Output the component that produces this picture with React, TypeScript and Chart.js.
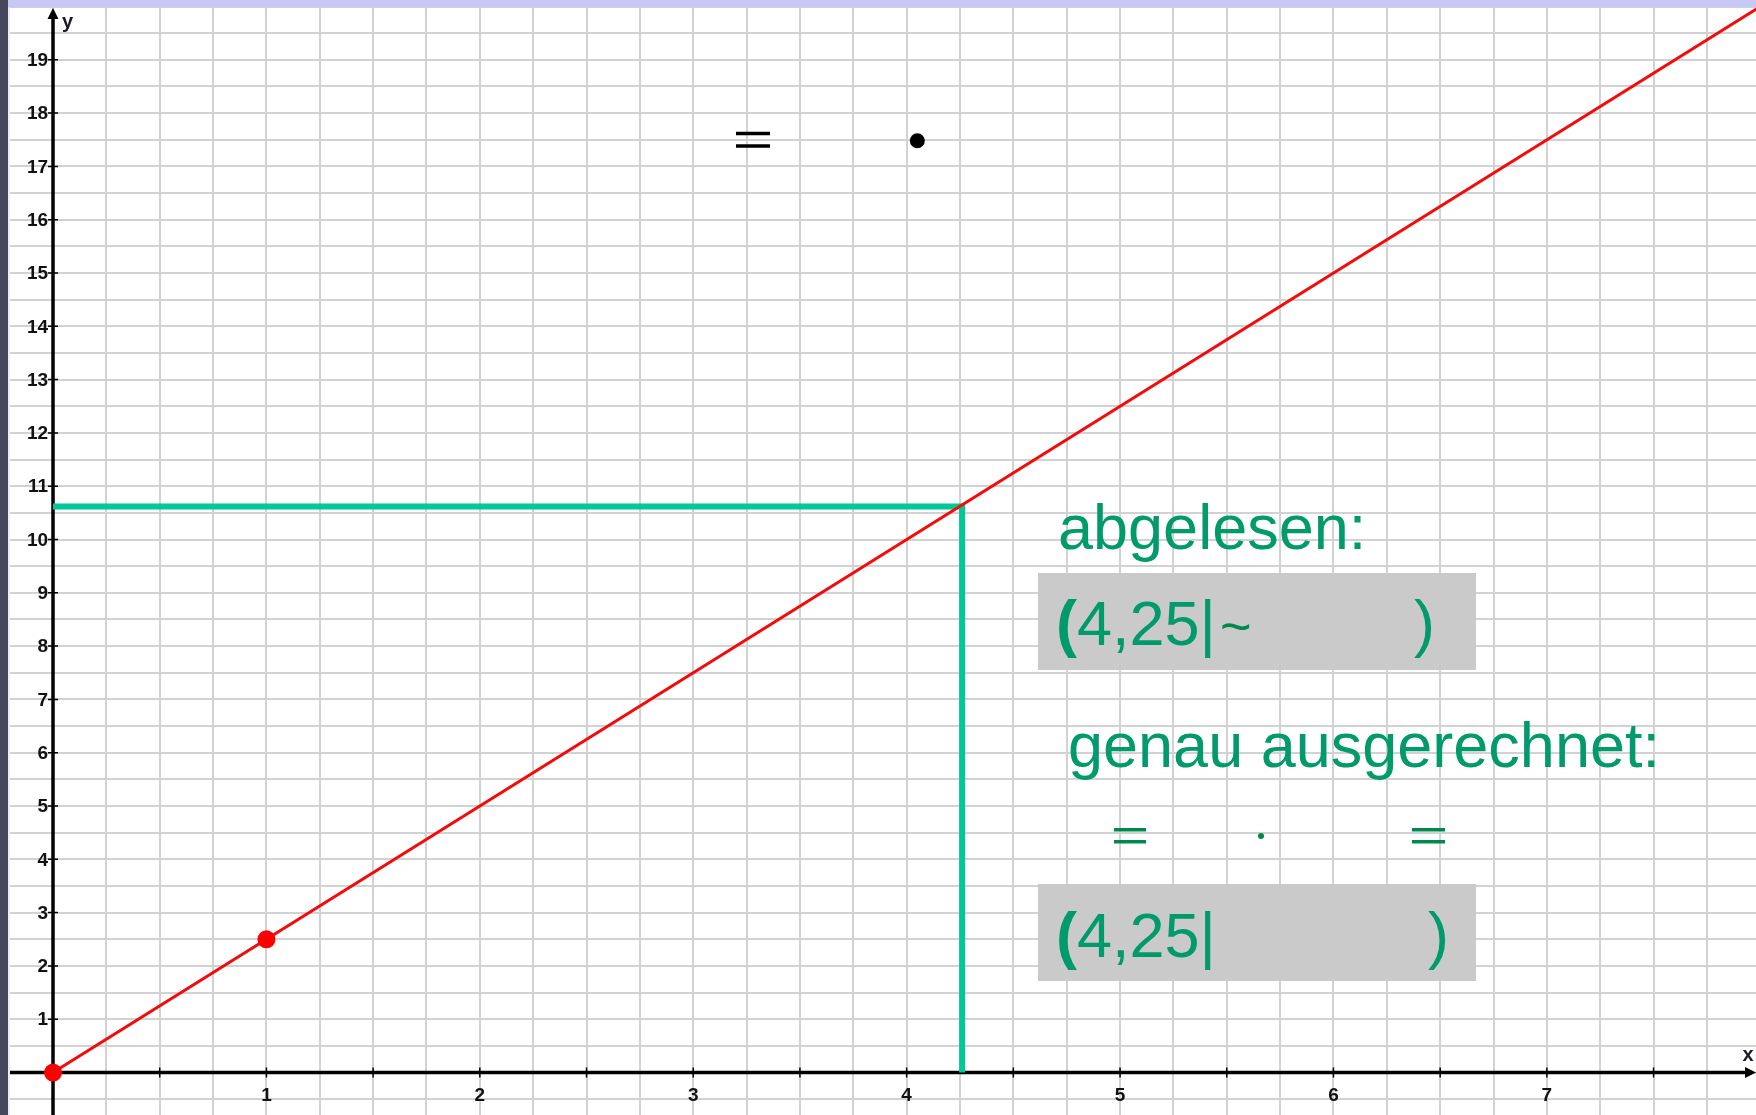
import React, { useEffect, useRef } from "react";
import { Chart, registerables } from "chart.js";

Chart.register(...registerables);

// ---- data ----
const lineX = [0, 8.1];
const lineY = [0, 20.25];
const givenPointX = [0, 1];
const givenPointY = [0, 2.5];
const guideX = [0, 4.26, 4.26];
const guideY = [10.62, 10.62, 0];
const blackDotX = [4.05];
const blackDotY = [17.48];
const blackEqX = [3.28];
const blackEqY = [17.5];
const xTickLabels = ["1", "2", "3", "4", "5", "6", "7"];
const yTickLabels = ["1", "2", "3", "4", "5", "6", "7", "8", "9", "10", "11", "12", "13", "14", "15", "16", "17", "18", "19"];
const xTickMarks = [0.5, 1, 1.5, 2, 2.5, 3, 3.5, 4, 4.5, 5, 5.5, 6, 6.5, 7, 7.5];
const readLabel = "abgelesen:";
const readValue = "4,25|";
const exactLabel = "genau ausgerechnet:";
const exactValue = "4,25|";

// ---- view ----
const X_MIN = -0.2484;
const X_MAX = 7.98;
const Y_MIN = -0.797;
const Y_MAX = 20.122;
const W = 1756;
const H = 1115;

const xGrid: number[] = [];
for (let v = -0.25; v <= 8.001; v += 0.25) xGrid.push(Math.round(v * 100) / 100);
const yGrid: number[] = [];
for (let v = -0.5; v <= 20.001; v += 0.5) yGrid.push(Math.round(v * 100) / 100);

const GREEN_TEXT = "#009A6B";
const GREEN_DARK = "#00894F";
const SANS = "'Liberation Sans', Arial, sans-serif";

const overlayPlugin = {
  id: "overlay",
  beforeDatasetsDraw(chart: any) {
    const ctx = chart.ctx as CanvasRenderingContext2D;
    const xs = chart.scales.x;
    const ys = chart.scales.y;
    const x0 = xs.getPixelForValue(0);
    const y0 = ys.getPixelForValue(0);
    const ca = chart.chartArea;
    ctx.save();
    ctx.strokeStyle = "#000";
    ctx.fillStyle = "#000";
    // y axis
    ctx.lineWidth = 3.5;
    ctx.beginPath();
    ctx.moveTo(x0, ca.bottom);
    ctx.lineTo(x0, ca.top + 16);
    ctx.stroke();
    ctx.beginPath();
    ctx.moveTo(x0, ca.top + 8);
    ctx.lineTo(x0 - 5.5, ca.top + 19);
    ctx.lineTo(x0 + 5.5, ca.top + 19);
    ctx.closePath();
    ctx.fill();
    // x axis
    ctx.lineWidth = 3.5;
    ctx.beginPath();
    ctx.moveTo(ca.left + 8, y0);
    ctx.lineTo(ca.right - 8, y0);
    ctx.stroke();
    ctx.beginPath();
    ctx.moveTo(ca.right, y0);
    ctx.lineTo(ca.right - 11, y0 - 5.5);
    ctx.lineTo(ca.right - 11, y0 + 5.5);
    ctx.closePath();
    ctx.fill();
    // tick marks
    ctx.lineWidth = 1.5;
    ctx.beginPath();
    xTickMarks.forEach((v) => {
      const px = xs.getPixelForValue(v);
      ctx.moveTo(px, y0 - 5);
      ctx.lineTo(px, y0 + 5);
    });
    yTickLabels.forEach((l) => {
      const py = ys.getPixelForValue(Number(l));
      ctx.moveTo(x0 - 5, py);
      ctx.lineTo(x0 + 5, py);
    });
    ctx.stroke();
    // tick labels
    ctx.fillStyle = "#111";
    ctx.font = `bold 19px ${SANS}`;
    ctx.textAlign = "right";
    ctx.textBaseline = "middle";
    yTickLabels.forEach((l) => {
      ctx.fillText(l, x0 - 5, ys.getPixelForValue(Number(l)) + 1);
    });
    ctx.textAlign = "center";
    xTickLabels.forEach((l) => {
      ctx.fillText(l, xs.getPixelForValue(Number(l)), y0 + 23);
    });
    // axis names
    ctx.font = `bold 20px ${SANS}`;
    ctx.fillStyle = "#1a1a2a";
    ctx.textAlign = "left";
    ctx.fillText("y", x0 + 9, ca.top + 22);
    ctx.textAlign = "center";
    ctx.fillText("x", ca.right - 8, y0 - 17);
    ctx.restore();
  },
  afterDatasetsDraw(chart: any) {
    const ctx = chart.ctx as CanvasRenderingContext2D;
    const xs = chart.scales.x;
    const ys = chart.scales.y;
    ctx.save();
    // black equal sign at top
    ctx.fillStyle = "#000";
    blackEqX.forEach((v, i) => {
      const px = xs.getPixelForValue(v);
      const py = ys.getPixelForValue(blackEqY[i]);
      ctx.fillRect(px - 17, py - 8, 34, 3.5);
      ctx.fillRect(px - 17, py + 4.5, 34, 3.5);
    });

    // green texts
    ctx.fillStyle = GREEN_TEXT;
    ctx.textAlign = "left";
    ctx.textBaseline = "alphabetic";
    ctx.font = `63px ${SANS}`;
    ctx.fillText(readLabel, 1058, 549);
    ctx.fillText(exactLabel, 1068, 767);

    // gray boxes
    ctx.fillStyle = "#CACACA";
    ctx.fillRect(1038, 573, 438, 97);
    ctx.fillRect(1038, 884, 438, 97);

    const drawValue = (baseline: number, value: string, closeX: number) => {
      ctx.fillStyle = GREEN_TEXT;
      ctx.font = `bold 63px ${SANS}`;
      ctx.fillText("(", 1056, baseline);
      ctx.font = `63px ${SANS}`;
      ctx.fillText(value, 1077, baseline);
      ctx.fillText(")", closeX, baseline);
    };
    drawValue(645, readValue, 1414);
    drawValue(957, exactValue, 1428);

    // tilde
    ctx.fillStyle = GREEN_DARK;
    ctx.font = `54px ${SANS}`;
    ctx.textBaseline = "middle";
    ctx.fillText("~", 1220, 630);

    // = · =
    ctx.fillRect(1114, 828, 32, 3.5);
    ctx.fillRect(1114, 840, 32, 3.5);
    ctx.beginPath();
    ctx.arc(1261, 836, 3, 0, Math.PI * 2);
    ctx.fill();
    ctx.fillRect(1412, 828, 33, 3.5);
    ctx.fillRect(1412, 840, 33, 3.5);
    ctx.restore();
  },
  afterDraw(chart: any) {
    const ctx = chart.ctx as CanvasRenderingContext2D;
    ctx.save();
    ctx.fillStyle = "#C8C8F6";
    ctx.fillRect(0, 0, W, 7.5);
    ctx.fillStyle = "#46465C";
    ctx.fillRect(0, 0, 8, H);
    ctx.fillStyle = "#ECECF8";
    ctx.fillRect(8, 7.5, 2, H);
    ctx.restore();
  },
};

export default function App() {
  const ref = useRef<HTMLCanvasElement | null>(null);
  useEffect(() => {
    document.body.style.margin = "0";
    document.body.style.overflow = "hidden";
    const canvas = ref.current;
    if (!canvas) return;
    const chart = new Chart(canvas, {
      type: "scatter",
      data: {
        datasets: [
          {
            data: guideX.map((x, i) => ({ x, y: guideY[i] })),
            showLine: true,
            borderColor: "#00C896",
            borderWidth: 6,
            borderJoinStyle: "miter",
            pointRadius: 0,
            order: 3,
          },
          {
            data: lineX.map((x, i) => ({ x, y: lineY[i] })),
            showLine: true,
            borderColor: "#F50A0A",
            borderWidth: 3,
            pointRadius: 0,
            order: 2,
          },
          {
            data: givenPointX.map((x, i) => ({ x, y: givenPointY[i] })),
            backgroundColor: "#FF0000",
            borderWidth: 0,
            pointRadius: 9,
            order: 1,
          },
          {
            data: blackDotX.map((x, i) => ({ x, y: blackDotY[i] })),
            backgroundColor: "#000000",
            borderWidth: 0,
            pointRadius: 7.5,
            order: 1,
          },
        ],
      } as any,
      options: {
        animation: false,
        responsive: false,
        maintainAspectRatio: false,
        events: [],
        layout: { padding: 0, autoPadding: false },
        plugins: { legend: { display: false }, tooltip: { enabled: false } },
        scales: {
          x: {
            type: "linear",
            min: X_MIN,
            max: X_MAX,
            afterFit: (s: any) => {
              s.height = 0;
            },
            afterBuildTicks: (s: any) => {
              s.ticks = xGrid.map((value) => ({ value }));
            },
            ticks: { display: false },
            grid: { color: "#D2D2D2", lineWidth: 2, drawTicks: false },
            border: { display: false },
          },
          y: {
            type: "linear",
            min: Y_MIN,
            max: Y_MAX,
            afterFit: (s: any) => {
              s.width = 0;
            },
            afterBuildTicks: (s: any) => {
              s.ticks = yGrid.map((value) => ({ value }));
            },
            ticks: { display: false },
            grid: { color: "#D2D2D2", lineWidth: 2, drawTicks: false },
            border: { display: false },
          },
        },
      } as any,
      plugins: [overlayPlugin],
    });
    return () => chart.destroy();
  }, []);
  return (
    <div style={{ width: W, height: H, background: "#fff" }}>
      <canvas ref={ref} width={W} height={H} style={{ display: "block" }} />
    </div>
  );
}
